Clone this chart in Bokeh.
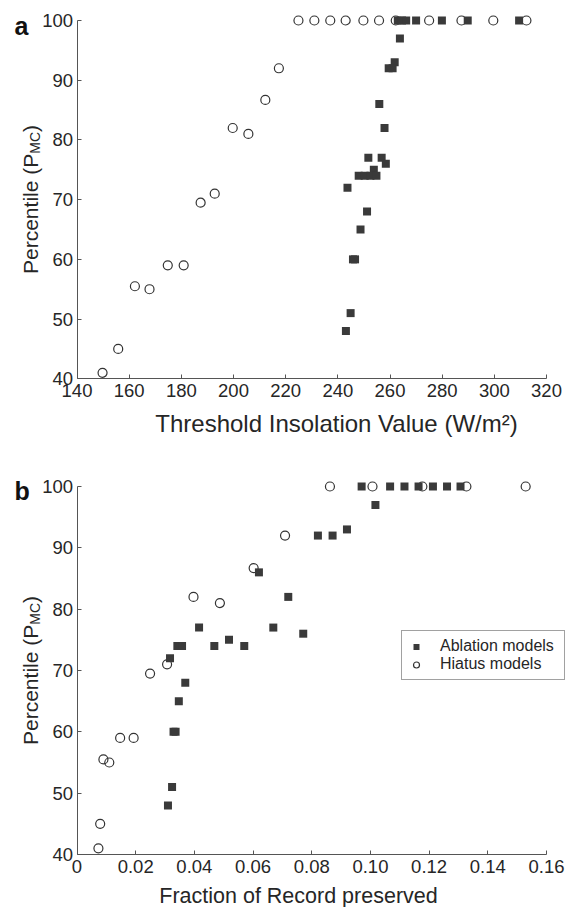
import math
from bokeh.plotting import figure
from bokeh.models import (Range1d, FixedTicker, Label, Legend, LegendItem,
                          CustomJSTickFormatter)
from bokeh.layouts import column
from bokeh.embed import file_html
from bokeh.resources import INLINE

# ---------------- data ----------------
# Panel a: threshold insolation value (W/m2) vs percentile
a_abl_x = [263.0, 264.6, 266.2, 270.0, 279.9, 289.8, 309.5,
           263.8, 261.8, 259.5, 261.0, 255.9, 257.9, 251.7, 256.8, 258.4,
           253.8, 248.0, 250.3, 252.5, 254.8, 243.7, 251.2, 248.7, 245.8,
           246.6, 244.9, 243.1]
a_abl_y = [100, 100, 100, 100, 100, 100, 100,
           97, 93, 92, 92, 86, 82, 77, 77, 76,
           75, 74, 74, 74, 74, 72, 68, 65, 60,
           60, 51, 48]
a_hia_x = [224.9, 231.0, 237.1, 243.0, 249.8, 255.8, 262.2, 275.0, 287.4,
           299.6, 312.3, 217.4, 212.2, 199.7, 205.7, 192.8, 187.4, 180.9,
           174.8, 167.8, 162.2, 155.8, 149.8]
a_hia_y = [100, 100, 100, 100, 100, 100, 100, 100, 100,
           100, 100, 92, 86.7, 82, 81, 71, 69.5, 59,
           59, 55, 55.5, 45, 41]

# Panel b: fraction of record preserved vs percentile
b_abl_x = [0.0970, 0.1067, 0.1116, 0.1164, 0.1213, 0.1261, 0.1307,
           0.1017, 0.0920, 0.0871, 0.0821, 0.0620, 0.0720, 0.0416, 0.0669,
           0.0771, 0.0518, 0.0342, 0.0358, 0.0468, 0.0570, 0.0317, 0.0369,
           0.0347, 0.0329, 0.0336, 0.0324, 0.0310]
b_abl_y = [100, 100, 100, 100, 100, 100, 100,
           97, 93, 92, 92, 86, 82, 77, 77,
           76, 75, 74, 74, 74, 74, 72, 68,
           65, 60, 60, 51, 48]
b_hia_x = [0.0862, 0.1007, 0.1177, 0.1327, 0.1529, 0.0709, 0.0602, 0.0397,
           0.0487, 0.0307, 0.0249, 0.0193, 0.0147, 0.0110, 0.0090, 0.0079,
           0.0073]
b_hia_y = [100, 100, 100, 100, 100, 92, 86.7, 82,
           81, 71, 69.5, 59, 59, 55, 55.5, 45,
           41]

y_ticks = [40, 50, 60, 70, 80, 90, 100]
a_x_ticks = [140, 160, 180, 200, 220, 240, 260, 280, 300, 320]
b_x_ticks = [0, 0.02, 0.04, 0.06, 0.08, 0.10, 0.12, 0.14, 0.16]

FONT = "Liberation Sans"
TXT = "#262626"
AX = "#555555"
W = 570
AX_LEFT, AX_RIGHT = 76.5, 546.0   # pixel x of axis ends


def base_fig(height, xlim, ylim, y_top_px, y_bot_px):
    """Figure whose frame covers the whole canvas; axes sit at fixed data
    locations so that texts outside the axes box are not clipped."""
    x0, x1 = xlim
    y0, y1 = ylim
    xs = (AX_RIGHT - AX_LEFT) / (x1 - x0)
    ys = (y_bot_px - y_top_px) / (y1 - y0)
    xr = Range1d(x0 - AX_LEFT / xs, x1 + (W - AX_RIGHT) / xs)
    yr = Range1d(y0 - (height - y_bot_px) / ys, y1 + y_top_px / ys)
    p = figure(width=W, height=height, output_backend="svg",
               toolbar_location=None, x_range=xr, y_range=yr,
               min_border_left=0, min_border_right=0,
               min_border_top=0, min_border_bottom=0)
    p.outline_line_color = None
    p.xgrid.visible = False
    p.ygrid.visible = False
    p.background_fill_color = "white"
    p.border_fill_color = "white"
    for ax in (p.xaxis[0], p.yaxis[0]):
        ax.axis_line_color = AX
        ax.axis_line_width = 1
        ax.major_tick_line_color = AX
        ax.major_tick_in = 4
        ax.major_tick_out = 0
        ax.minor_tick_line_color = None
        ax.major_label_text_font = FONT
        ax.major_label_text_font_size = "18.5px"
        ax.major_label_text_color = TXT
    p.yaxis[0].ticker = FixedTicker(ticks=y_ticks)
    p.yaxis[0].fixed_location = x0
    p.yaxis[0].bounds = (y0, y1)
    p.yaxis[0].major_label_standoff = 4
    p.xaxis[0].fixed_location = y0
    p.xaxis[0].bounds = (x0, x1)
    p.xaxis[0].major_label_standoff = 5
    return p


def ylabel(p, cy, bx):
    # "Percentile (P" + subscript "MC" + ")", rotated
    f1, f2 = 21, 14
    w1 = 5.724 * f1
    w2 = 1.555 * f2
    w3 = 0.333 * f1
    start = cy - (w1 + w2 + w3) / 2
    parts = [("Percentile (P", f1, bx, start),
             ("MC", f2, bx + 4, start + w1),
             (")", f1, bx, start + w1 + w2)]
    for t, fs, x, y in parts:
        p.add_layout(Label(x=x, y=y, x_units="screen", y_units="screen",
                           text=t, angle=math.pi / 2, text_font=FONT,
                           text_font_size=f"{fs}px", text_color=TXT,
                           text_align="left", text_baseline="alphabetic"))


def xlabel(p, text, cx, by, fs):
    p.add_layout(Label(x=cx, y=by, x_units="screen", y_units="screen",
                       text=text, text_font=FONT, text_font_size=f"{fs}px",
                       text_color=TXT, text_align="center",
                       text_baseline="alphabetic"))


def letter(p, t, y):
    p.add_layout(Label(x=14, y=y, x_units="screen", y_units="screen",
                       text=t, text_font=FONT, text_font_size="25px",
                       text_font_style="bold", text_color="#111111",
                       text_align="left", text_baseline="alphabetic"))


# ---------------- panel a ----------------
HA = 453
pa = base_fig(HA, (140, 320), (40, 100), 20.0, 378.3)
pa.xaxis[0].ticker = FixedTicker(ticks=a_x_ticks)
pa.scatter(a_hia_x, a_hia_y, marker="circle", size=9, fill_color=None,
           line_color="#333333", line_width=1.2)
pa.scatter(a_abl_x, a_abl_y, marker="square", size=8, fill_color="#3a3a3a",
           line_color=None)
ylabel(pa, HA - 199, 30)
xlabel(pa, "Threshold Insolation Value (W/m\u00b2)", 336, HA - 423, 24)
letter(pa, "a", HA - 25)

# ---------------- panel b ----------------
HB = 454
OFF = 453
pb = base_fig(HB, (0, 0.16), (40, 100), 486.0 - OFF, 854.0 - OFF)
pb.xaxis[0].ticker = FixedTicker(ticks=b_x_ticks)
pb.xaxis[0].formatter = CustomJSTickFormatter(
    code="return tick == 0 ? '0' : tick.toFixed(2);")
rc = pb.scatter(b_hia_x, b_hia_y, marker="circle", size=9, fill_color=None,
                line_color="#333333", line_width=1.2)
rs = pb.scatter(b_abl_x, b_abl_y, marker="square", size=8,
                fill_color="#3a3a3a", line_color=None)
ylabel(pb, HB - (670 - OFF), 30)
xlabel(pb, "Fraction of Record preserved", 298, HB - (895.7 - OFF), 21.5)
letter(pb, "b", HB - (490.7 - OFF))

legend = Legend(items=[LegendItem(label="Ablation models", renderers=[rs]),
                       LegendItem(label="Hiatus models", renderers=[rc])],
                location=(401, HB - (634 - OFF) - 46), padding=6, spacing=0,
                margin=0, glyph_width=16, glyph_height=15, label_height=15,
                label_width=118, label_standoff=16,
                label_text_font=FONT, label_text_font_size="16px",
                label_text_color=TXT, border_line_color="#444444",
                border_line_width=1, background_fill_color="white",
                background_fill_alpha=1.0)
pb.add_layout(legend)

layout = column(pa, pb)
open("out.html", "w").write(file_html(layout, INLINE))
